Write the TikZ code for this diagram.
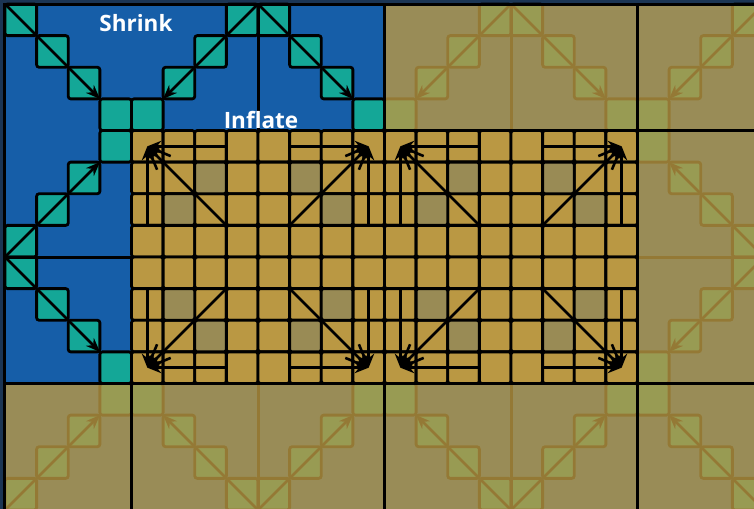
\documentclass[tikz,border=0pt]{standalone}
\usepackage{fontspec}
\setmainfont{Open Sans}
\usetikzlibrary{arrows.meta}
\definecolor{navy}{HTML}{1B3554}
\definecolor{bblue}{HTML}{165EA8}
\definecolor{tealc}{HTML}{14A797}
\definecolor{orng}{HTML}{BA9843}
\definecolor{holec}{HTML}{998B55}
\begin{document}
\begin{tikzpicture}[x=31.625pt,y=-31.625pt,
  cellb/.style={draw=black,line width=2.8pt,rounded corners=2.5pt},
  arr/.style={line width=2.6pt,-{Stealth[length=14pt,width=11pt,inset=4.5pt]}},
  pline/.style={line width=3pt},
  tline/.style={line width=3pt},
  lbl/.style={text=white,font=\bfseries\fontsize{22.5}{26}\selectfont,anchor=base,inner sep=0pt}]
\useasboundingbox (-0.1581,-0.1265) rectangle (23.684,15.968);
\clip (-0.1581,-0.1265) rectangle (23.684,15.968);
\fill[navy] (-0.1581,-0.1265) rectangle (23.684,15.968);
\fill[bblue] (0,0) rectangle (24,16);
% teal staircase cells
\foreach \c [evaluate=\c as \r using {min(mod(\c,8),7-mod(\c,8))}] in {0,...,23}
  \draw[cellb,fill=tealc] (\c,\r) rectangle ++(1,1);
\foreach \c [evaluate=\c as \r using {15-min(mod(\c,8),7-mod(\c,8))}] in {0,...,23}
  \draw[cellb,fill=tealc] (\c,\r) rectangle ++(1,1);
\foreach \r [evaluate=\r as \c using {3-min(mod(\r-4,8),7-mod(\r-4,8))}] in {4,...,11}
  \draw[cellb,fill=tealc] (\c,\r) rectangle ++(1,1);
\foreach \r [evaluate=\r as \c using {20+min(mod(\r-4,8),7-mod(\r-4,8))}] in {4,...,11}
  \draw[cellb,fill=tealc] (\c,\r) rectangle ++(1,1);
% shrink arrows and peak lines
\foreach \k in {0,1,2} {
  \draw[arr] ({8*\k},0) -- ({8*\k+3},3);
  \draw[arr] ({8*\k+8},0) -- ({8*\k+5},3);
  \draw[arr] ({8*\k},16) -- ({8*\k+3},13);
  \draw[arr] ({8*\k+8},16) -- ({8*\k+5},13);
}
\draw[arr] (0,8) -- (3,5);
\draw[arr] (0,8) -- (3,11);
\draw[arr] (24,8) -- (21,5);
\draw[arr] (24,8) -- (21,11);
\draw[pline] (8,0) -- (8,4) (16,0) -- (16,4) (8,12) -- (8,16) (16,12) -- (16,16)
  (0,8) -- (4,8) (20,8) -- (24,8);
% faded overlay
\fill[orng,opacity=0.8] (12,0) rectangle (24,4) (20,4) rectangle (24,12) (0,12) rectangle (24,16);
% inflate region
\foreach \c in {4,...,19} \foreach \r in {4,...,11}
  \draw[cellb,fill=orng] (\c,\r) rectangle ++(1,1);
\foreach \k in {0,1} \foreach \a/\b in {2/1,1/2,5/1,6/2,1/5,2/6,5/6,6/5}
  \draw[cellb,fill=holec] ({4+8*\k+\a},{4+\b}) rectangle ++(1,1);
\foreach \k in {0,1} {
  \foreach \sx/\sy/\dx/\dy in {0/0/1/1, 8/0/-1/1, 0/8/1/-1, 8/8/-1/-1} {
    \begin{scope}[shift={({4+8*\k+\sx},{4+\sy})},xscale=\dx,yscale=\dy]
      \draw[arr] (3,3) -- (0.5,0.5);
      \draw[arr] (0.5,3) -- (0.5,0.5);
      \draw[arr] (3,0.5) -- (0.5,0.5);
      \draw[arr] (1.24,0.81) -- (0.5,0.5);
      \draw[arr] (0.81,1.24) -- (0.5,0.5);
    \end{scope}
  }
}
% tile lines
\draw[tline] (0,16) -- (0,0) -- (24,0);
\draw[tline] (12,0) -- (12,4) (20,0) -- (20,16) (4,12) -- (4,16) (12,12) -- (12,16)
  (0,12) -- (24,12) (12,4) -- (24,4);
% labels
\node[lbl] (shrink) at (4.142,0.885) {Shrink};
\node[lbl] (inflate) at (8.095,3.921) {Inflate};
\end{tikzpicture}
\end{document}
